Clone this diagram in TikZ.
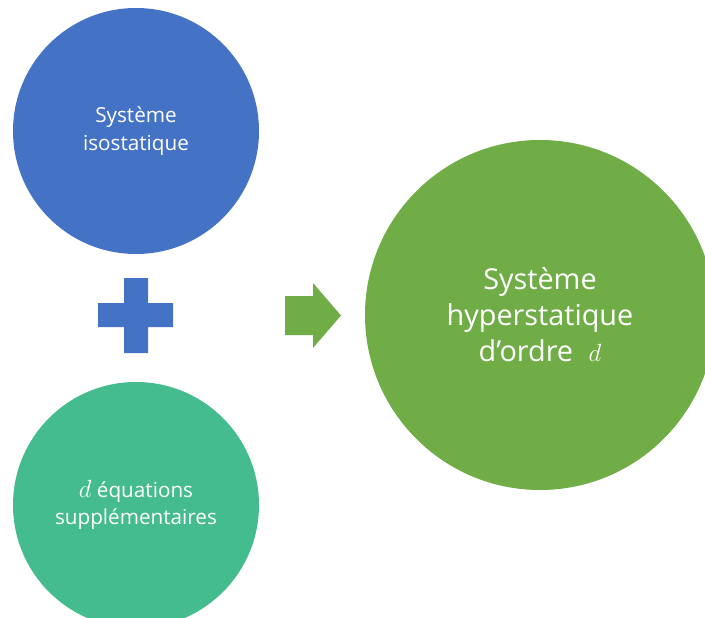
\documentclass[tikz,border=0pt]{standalone}
\usepackage{fontspec}
\setmainfont{Open Sans}
\definecolor{cblue}{HTML}{4472C4}
\definecolor{cteal}{HTML}{45BC8D}
\definecolor{cgreen}{HTML}{70AD47}
\begin{document}
\begin{tikzpicture}[x=1pt,y=-1pt,
  circ/.style={circle,inner sep=0pt,text=white,align=center},
  smalltxt/.style={font=\fontsize{20.7}{27.5}\selectfont},
  bigtxt/.style={font=\fontsize{28.8}{36}\selectfont}]
\useasboundingbox (0,0) rectangle (705,618);
\clip (0,0) rectangle (705,618);
\node[circ,smalltxt,fill=cblue,minimum size=246pt] (iso) at (136,131) {Système\\isostatique};
\node[circ,smalltxt,fill=cteal,minimum size=246pt] (eq) at (136,505) {{\fontsize{24}{27.5}\selectfont$d$} équations\\supplémentaires};
\node[circ,bigtxt,fill=cgreen,minimum size=350pt] (hyper) at (540,315) {Système\\hyperstatique\\d’ordre\; {\fontsize{34}{36}\selectfont$d$}};
\fill[cblue] (98,303) -- (124,303) -- (124,278) -- (148,278) -- (148,303) -- (173,303)
  -- (173,327) -- (148,327) -- (148,353) -- (124,353) -- (124,327) -- (98,327) -- cycle;
\fill[cgreen] (285,296) -- (313,296) -- (313,283) -- (341,315.5) -- (313,348) -- (313,335) -- (285,335) -- cycle;
\end{tikzpicture}
\end{document}
